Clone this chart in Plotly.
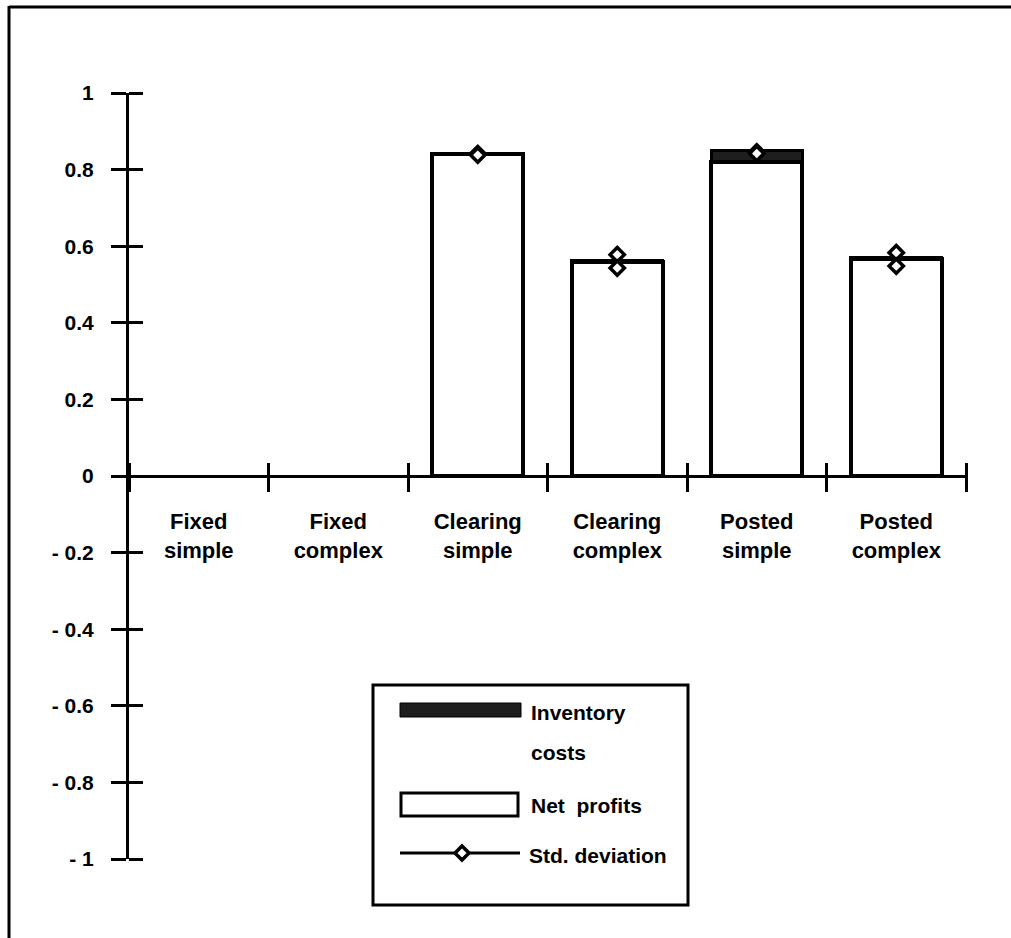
import plotly.graph_objects as go

# ---- data ----
categories = ["Fixed<br>simple", "Fixed<br>complex", "Clearing<br>simple",
              "Clearing<br>complex", "Posted<br>simple", "Posted<br>complex"]
net_profits = [None, None, 0.84, 0.56, 0.82, 0.567]
inventory_costs = [None, None, 0.003, 0.002, 0.03, 0.003]
std_high = [None, None, 0.842, 0.578, 0.846, 0.583]
std_low = [None, None, 0.838, 0.543, 0.842, 0.548]
y_ticks = [1, 0.8, 0.6, 0.4, 0.2, 0, -0.2, -0.4, -0.6, -0.8, -1]
y_ticktext = ["1", "0.8", "0.6", "0.4", "0.2", "0", "- 0.2", "- 0.4", "- 0.6", "- 0.8", "- 1"]
legend_labels = ["Inventory<br>costs", "Net  profits", "Std. deviation"]

W, H = 1011, 938
L, R, T, B = 129, 966, 93, 859
FONT = "Liberation Sans"
FS = 21
TICK_OUT, TICK_IN = 15, 14


def px_x(p):
    return (p - L) / (R - L)


def px_y(p):
    return (B - p) / (B - T)


tickfont = dict(family=FONT, size=FS, color="black", weight="bold")
xtickfont = dict(family=FONT, size=22, color="black", weight="bold")
# inner halves of the crossing y ticks (tiny offset so they are not merged with major ticks)
y_inner = [v + 1e-6 for v in y_ticks]

fig = go.Figure()
fig.add_trace(go.Bar(x=categories, y=net_profits, name="Net profits",
                     marker=dict(color="white", line=dict(color="black", width=4)),
                     width=0.65, showlegend=False))
fig.add_trace(go.Bar(x=categories, y=inventory_costs, name="Inventory costs",
                     marker=dict(color="#1e1e1e", line=dict(color="black", width=3)),
                     width=0.65, showlegend=False))
fig.add_trace(go.Scatter(x=categories + categories, y=std_high + std_low, mode="markers",
                         name="Std. deviation", showlegend=False,
                         marker=dict(symbol="diamond", size=11, color="white",
                                     line=dict(color="black", width=3.5))))

fig.update_layout(
    width=W, height=H,
    margin=dict(l=L, r=W - R, t=T, b=H - B),
    paper_bgcolor="white", plot_bgcolor="white",
    barmode="stack",
    font=dict(family=FONT, size=FS, color="black", weight="bold"),
    xaxis=dict(type="category", categoryorder="array", categoryarray=categories,
               range=[-0.5, 5.5], anchor="free",
               position=0.5 + TICK_IN / (B - T),
               showline=False,
               ticks="outside", ticklen=TICK_IN + TICK_OUT, tickwidth=3, tickcolor="black",
               tickson="boundaries", showgrid=False, zeroline=False,
               ticklabelstandoff=44, tickfont=xtickfont),
    yaxis=dict(range=[-1, 1], tickvals=y_ticks, ticktext=y_ticktext, anchor="x",
               showline=True, linecolor="black", linewidth=3,
               ticks="outside", ticklen=TICK_OUT, tickwidth=3, tickcolor="black",
               minor=dict(tickmode="array", tickvals=y_inner, ticks="inside",
                          ticklen=TICK_IN, tickwidth=3, tickcolor="black", showgrid=False),
               showgrid=False, zeroline=True, zerolinecolor="black", zerolinewidth=3,
               ticklabelstandoff=13, tickfont=tickfont),
)

shapes = []
# outer frame: only the top and left edges are inside the page
shapes.append(dict(type="line", xref="paper", yref="paper",
                   x0=px_x(9), x1=px_x(1011), y0=px_y(7), y1=px_y(7),
                   line=dict(color="black", width=3)))
shapes.append(dict(type="line", xref="paper", yref="paper",
                   x0=px_x(9), x1=px_x(9), y0=px_y(6), y1=px_y(938),
                   line=dict(color="black", width=3)))
# legend box
shapes.append(dict(type="rect", xref="paper", yref="paper",
                   x0=px_x(373), x1=px_x(688), y0=px_y(685), y1=px_y(905),
                   line=dict(color="black", width=3), fillcolor="white"))
# inventory swatch
shapes.append(dict(type="rect", xref="paper", yref="paper",
                   x0=px_x(400), x1=px_x(521), y0=px_y(703), y1=px_y(717),
                   line=dict(color="black", width=1), fillcolor="#1e1e1e"))
# net profits swatch
shapes.append(dict(type="rect", xref="paper", yref="paper",
                   x0=px_x(401), x1=px_x(518), y0=px_y(793), y1=px_y(816),
                   line=dict(color="black", width=3), fillcolor="white"))
# std deviation line
shapes.append(dict(type="line", xref="paper", yref="paper",
                   x0=px_x(400), x1=px_x(520), y0=px_y(853), y1=px_y(853),
                   line=dict(color="black", width=3)))
cx, cy, d = 462, 853, 7
path = "M {} {} L {} {} L {} {} L {} {} Z".format(
    px_x(cx - d), px_y(cy), px_x(cx), px_y(cy - d),
    px_x(cx + d), px_y(cy), px_x(cx), px_y(cy + d))
shapes.append(dict(type="path", xref="paper", yref="paper", path=path,
                   line=dict(color="black", width=3.5), fillcolor="white"))
fig.update_layout(shapes=shapes)

annotations = [
    dict(text="Inventory", x=px_x(529), y=px_y(712)),
    dict(text="costs", x=px_x(529), y=px_y(752)),
    dict(text=legend_labels[1], x=px_x(529), y=px_y(805)),
    dict(text=legend_labels[2], x=px_x(527), y=px_y(855)),
]
for a in annotations:
    a.update(xref="paper", yref="paper", xanchor="left", yanchor="middle",
             showarrow=False, font=tickfont)
fig.update_layout(annotations=annotations)

fig.write_html("out.html")
